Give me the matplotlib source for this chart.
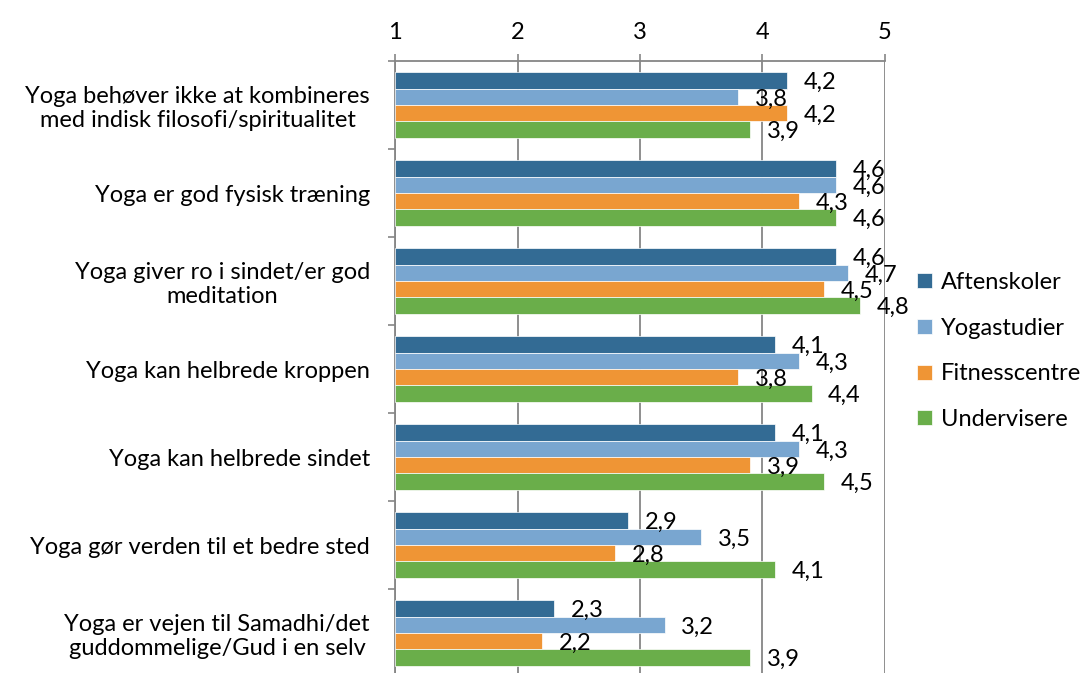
import matplotlib
matplotlib.use("Agg")
import matplotlib.pyplot as plt
import numpy as np

plt.rcParams['font.family'] = ['Lato', 'DejaVu Sans']

categories = [
    "Yoga behøver ikke at kombineres\nmed indisk filosofi/spiritualitet",
    "Yoga er god fysisk træning",
    "Yoga giver ro i sindet/er god\nmeditation",
    "Yoga kan helbrede kroppen",
    "Yoga kan helbrede sindet",
    "Yoga gør verden til et bedre sted",
    "Yoga er vejen til Samadhi/det\nguddommelige/Gud i en selv",
]
series_names = ["Aftenskoler", "Yogastudier", "Fitnesscentre", "Undervisere"]
aftenskoler = [4.2, 4.6, 4.6, 4.1, 4.1, 2.9, 2.3]
yogastudier = [3.8, 4.6, 4.7, 4.3, 4.3, 3.5, 3.2]
fitnesscentre = [4.2, 4.3, 4.5, 3.8, 3.9, 2.8, 2.2]
undervisere = [3.9, 4.6, 4.8, 4.4, 4.5, 4.1, 3.9]
colors = ["#336B94", "#79A6D0", "#EF9535", "#6AAE4A"]

fig = plt.figure(figsize=(10.87, 6.73), dpi=100)
ax = fig.add_axes([395 / 1087, -4 / 673, 490 / 1087, 616 / 673])

y = np.arange(len(categories))
h = 0.185
handles = []
for j, vals in enumerate([aftenskoler, yogastudier, fitnesscentre, undervisere]):
    pos = y + (j - 1.5) * h
    vals = np.array(vals)
    b = ax.barh(pos, vals - 1, left=1, height=h, color=colors[j],
                edgecolor="white", linewidth=0.5, label=series_names[j], zorder=3)
    handles.append(b)
    for p, v in zip(pos, vals):
        ax.annotate(("%.1f" % v).replace(".", ","), (v, p), xytext=(12, -1.5),
                    textcoords="offset points", va="center", ha="left",
                    fontsize=17, zorder=4)

ax.set_xlim(1, 5)
ax.set_ylim(len(categories) - 0.5, -0.5)
ax.xaxis.tick_top()
ax.set_xticks([1, 2, 3, 4, 5])
ax.tick_params(axis="x", labelsize=17, length=5, color="#868686", pad=8, width=1.2)
ax.grid(axis="x", color="#868686", linewidth=1.3, zorder=0)

ax.set_yticks(y)
ax.set_yticklabels(categories, fontsize=17, multialignment="center")
ax.tick_params(axis="y", which="major", length=0, pad=18)
ax.set_yticks(np.arange(-0.5, len(categories), 1), minor=True)
ax.tick_params(axis="y", which="minor", length=5, color="#868686", width=1.2)

for s in ["right", "bottom"]:
    ax.spines[s].set_visible(False)
for s in ["top", "left"]:
    ax.spines[s].set_color("#868686")
    ax.spines[s].set_linewidth(1.3)

fig.legend(handles=handles, loc="center left", bbox_to_anchor=(908 / 1087, 1 - 351 / 673),
           frameon=False, fontsize=17, handlelength=0.6, handleheight=0.6,
           handletextpad=0.4, labelspacing=1.05, borderaxespad=0)

fig.savefig("out.png", dpi=100)
